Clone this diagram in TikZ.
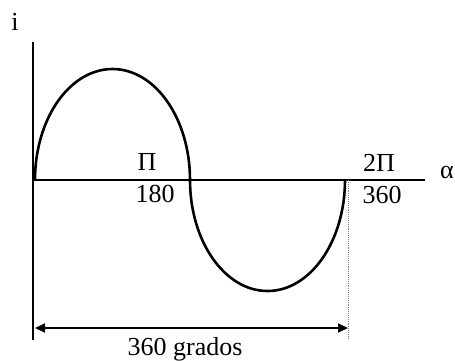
\documentclass[tikz,border=0pt]{standalone}
\usepackage{fontspec}
\setmainfont{Liberation Serif}
\usetikzlibrary{arrows.meta}

\begin{document}
\begin{tikzpicture}[x=1pt, y=-1pt, axis/.style={line width=2.4pt}, wave/.style={line width=2.6pt}, lbl/.style={font=\fontsize{26}{29}\selectfont, inner sep=0pt}]
\useasboundingbox (0,0) rectangle (455,360);
\coordinate (itop) at (33,42);
\coordinate (ibot) at (33,340);
\coordinate (orig) at (33,180);
\coordinate (aend) at (425,180);
\coordinate (pi) at (190,180);
\coordinate (twopi) at (348,180);
\coordinate (dimL) at (35,328);
\coordinate (dimR) at (348,328);
\coordinate (dotB) at (348,338);
\draw[axis] (itop) -- (ibot);
\draw[axis] (orig) -- (aend);
\draw[wave] (35,180) arc[start angle=180, end angle=0, x radius=77.5pt, y radius=111pt]
  arc[start angle=180, end angle=360, x radius=77.5pt, y radius=111pt];
\draw[gray, densely dotted, line width=0.9pt] (twopi) -- (dotB);
\draw[line width=1.8pt, {Triangle[length=10pt,width=9pt]}-{Triangle[length=10pt,width=9pt]}] (dimL) -- (dimR);
\node[lbl] (ilbl) at (15,22) {i};
\node[lbl] (pilbl) at (147,162) {Π};
\node[lbl] (deg180) at (155,194) {180};
\node[lbl] (twopilbl) at (379,163) {2Π};
\node[lbl] (deg360) at (382,195) {360};
\node[lbl] (alpha) at (447,172) {α};
\node[lbl] (grados) at (185,349) {360 grados};
\end{tikzpicture}
\end{document}
